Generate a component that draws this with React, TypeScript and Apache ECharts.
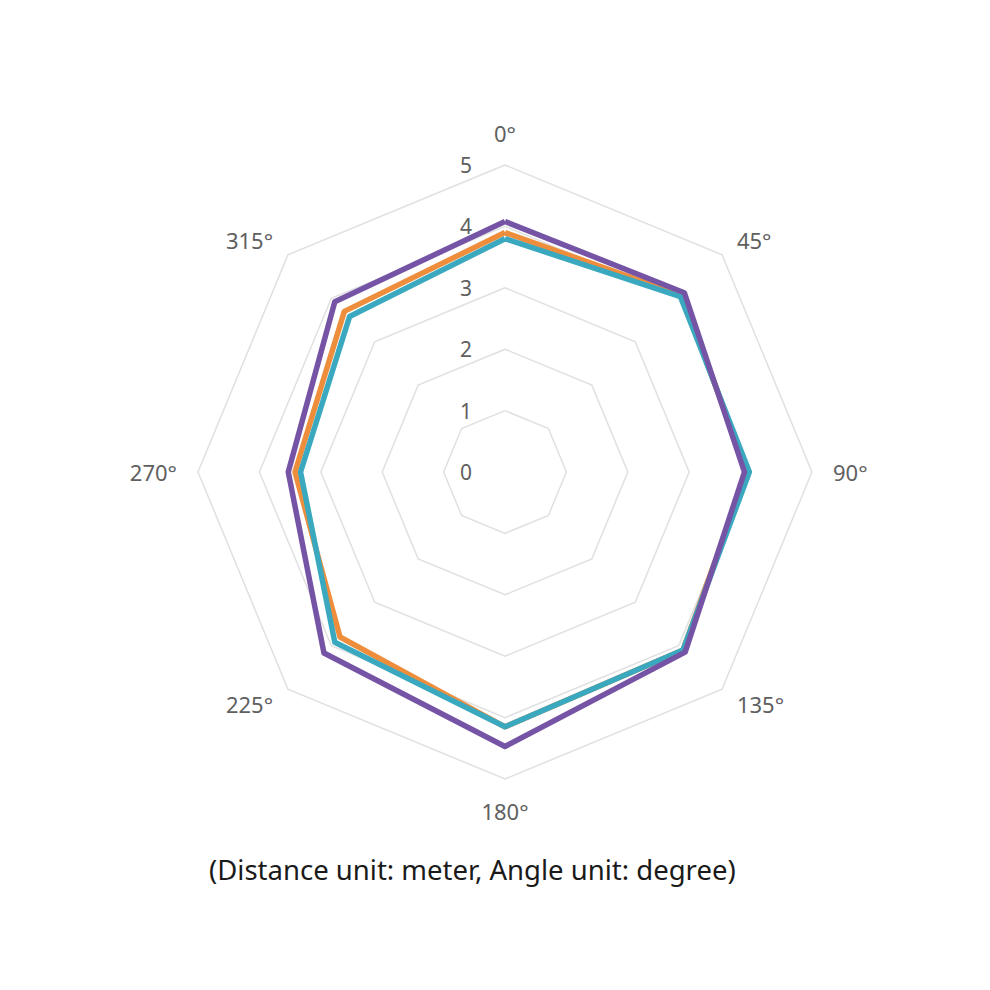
import React, { useEffect, useRef } from "react";
import * as echarts from "echarts";

const angleLabels = ["0°", "45°", "90°", "135°", "180°", "225°", "270°", "315°"];
const tickLabels = ["0", "1", "2", "3", "4", "5"];
const seriesOrange = [3.9, 4.07, 3.95, 4.1, 4.15, 3.8, 3.42, 3.7];
const seriesTeal = [3.8, 4.04, 3.98, 4.1, 4.15, 3.92, 3.33, 3.58];
const seriesPurple = [4.08, 4.13, 3.9, 4.15, 4.47, 4.17, 3.53, 3.92];
const seriesNames = ["Series A", "Series B", "Series C"];
const caption = "(Distance unit: meter, Angle unit: degree)";

// ECharts radar goes counter-clockwise; reorder so angles increase clockwise
const order = [0, 7, 6, 5, 4, 3, 2, 1];
const reorder = (arr: any[]) => order.map((i) => arr[i]);

export default function App() {
  const ref = useRef<HTMLDivElement>(null);
  useEffect(() => {
    const chart = echarts.init(ref.current!, undefined, { renderer: "svg" });
    const maxV = Number(tickLabels[tickLabels.length - 1]);
    const indicators = reorder(angleLabels).map((name, i) => ({
      name,
      min: 0,
      max: maxV,
      axisLabel: i === 0 ? { show: true } : { show: false },
    }));
    chart.setOption({
      animation: false,
      backgroundColor: "#ffffff",
      title: {
        text: caption,
        left: 204,
        top: 850,
        textStyle: {
          fontFamily: "Noto Sans",
          fontSize: 27.5,
          fontWeight: "normal",
          color: "#1a1a1a",
        },
      },
      radar: {
        center: [505, 472],
        radius: 307,
        startAngle: 90,
        splitNumber: tickLabels.length - 1,
        shape: "polygon",
        nameGap: 21,
        axisName: {
          color: "#606060",
          fontSize: 22,
          fontFamily: "Noto Sans",
        },
        axisLine: { show: false },
        axisTick: { show: false },
        axisLabel: {
          show: false,
          color: "#606060",
          fontSize: 21,
          fontFamily: "Noto Sans",
          margin: 33,
        },
        splitLine: { lineStyle: { color: "#e0e0e0", width: 1.5 } },
        splitArea: { show: false },
        indicator: indicators,
      },
      series: [
        {
          type: "radar",
          symbol: "none",
          data: [
            {
              name: seriesNames[0],
              value: reorder(seriesOrange),
              lineStyle: { color: "#ee8e3c", width: 5.5 },
              itemStyle: { color: "#ee8e3c" },
            },
            {
              name: seriesNames[1],
              value: reorder(seriesTeal),
              lineStyle: { color: "#3aa9bf", width: 5.5 },
              itemStyle: { color: "#3aa9bf" },
            },
            {
              name: seriesNames[2],
              value: reorder(seriesPurple),
              lineStyle: { color: "#7654a5", width: 5.5 },
              itemStyle: { color: "#7654a5" },
            },
          ],
        },
      ],
    });
    return () => chart.dispose();
  }, []);
  return (
    <div
      ref={ref}
      style={{ position: "absolute", left: 0, top: 0, width: 990, height: 990 }}
    />
  );
}
